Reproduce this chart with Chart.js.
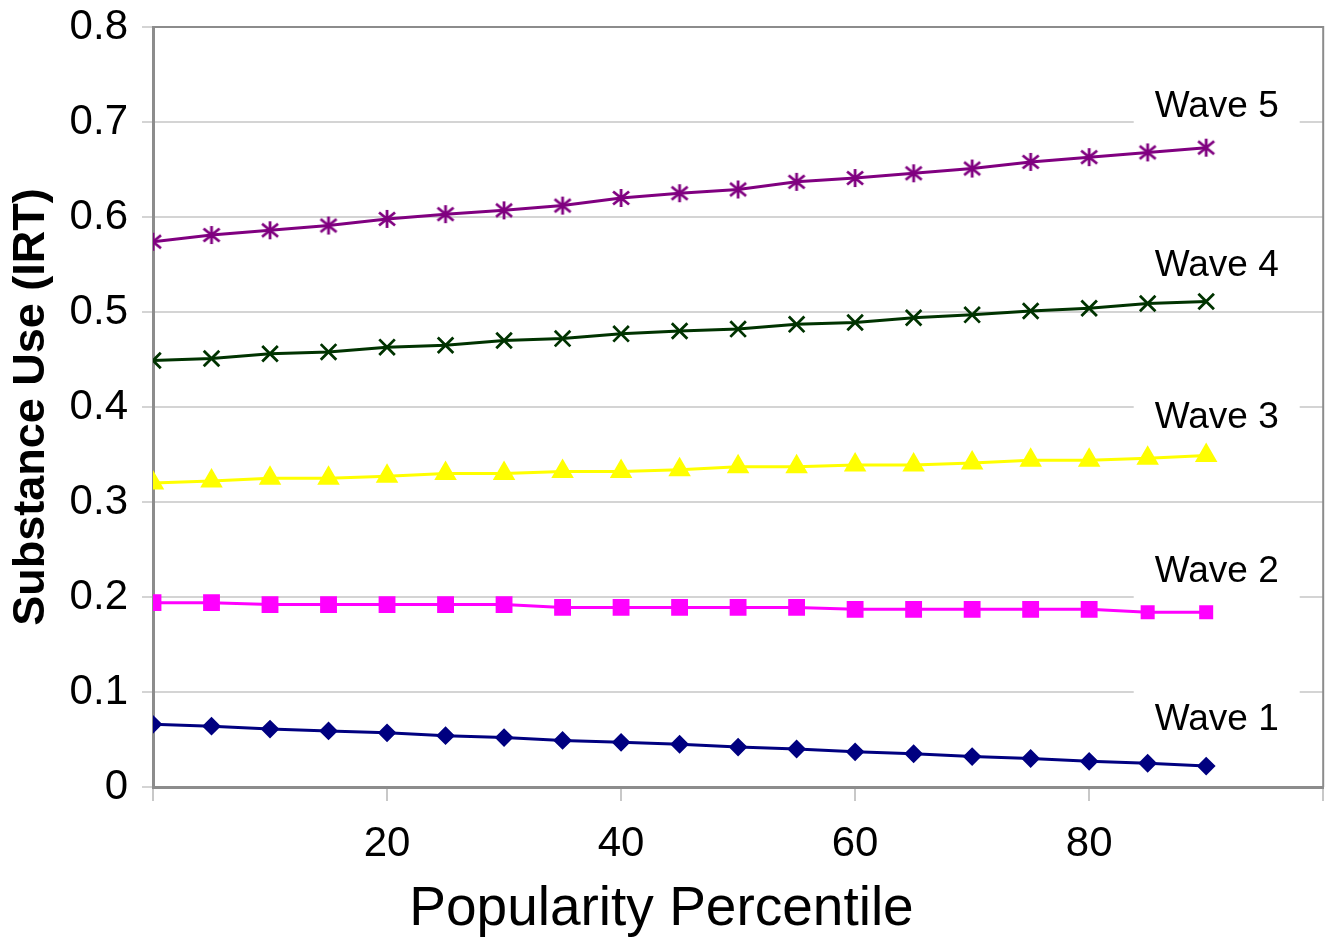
<!DOCTYPE html>
<html>
<head>
<meta charset="utf-8">
<script src="https://cdn.jsdelivr.net/npm/chart.js@4"></script>
<style>
  html, body { margin: 0; padding: 0; background: #fff; }
  #wrap { width: 1337px; height: 941px; }
</style>
</head>
<body>
<div id="wrap"><canvas id="chart" width="1337" height="941"></canvas></div>
<script>
// popularity percentile (x) and IRT substance use per wave (y)
const percentiles = [0, 5, 10, 15, 20, 25, 30, 35, 40, 45, 50, 55, 60, 65, 70, 75, 80, 85, 90];
const wave1 = [0.066, 0.064, 0.061, 0.059, 0.057, 0.054, 0.052, 0.049, 0.047, 0.045, 0.042, 0.040, 0.037, 0.035, 0.032, 0.030, 0.027, 0.025, 0.022];
const wave2 = [0.194, 0.194, 0.192, 0.192, 0.192, 0.192, 0.192, 0.189, 0.189, 0.189, 0.189, 0.189, 0.187, 0.187, 0.187, 0.187, 0.187, 0.184, 0.184];
const wave3 = [0.320, 0.322, 0.325, 0.325, 0.327, 0.330, 0.330, 0.332, 0.332, 0.334, 0.337, 0.337, 0.339, 0.339, 0.341, 0.344, 0.344, 0.346, 0.349];
const wave4 = [0.449, 0.451, 0.456, 0.458, 0.463, 0.465, 0.470, 0.472, 0.477, 0.480, 0.482, 0.487, 0.489, 0.494, 0.497, 0.501, 0.504, 0.509, 0.511];
const wave5 = [0.574, 0.581, 0.586, 0.591, 0.598, 0.603, 0.607, 0.612, 0.620, 0.625, 0.629, 0.637, 0.641, 0.646, 0.651, 0.658, 0.663, 0.668, 0.673];
const seriesNames = ['Wave 1', 'Wave 2', 'Wave 3', 'Wave 4', 'Wave 5'];
const xTickLabels = [20, 40, 60, 80];

const FONT = '"Liberation Sans", Arial, sans-serif';

// where the "Wave n" labels sit (data units)
const waveLabelX = 90.9;
const waveLabelY = [0.0705, 0.227, 0.389, 0.549, 0.716];

// excel style asterisk marker (x plus a vertical bar)
const asterisk = document.createElement('canvas');
asterisk.width = 22;
asterisk.height = 22;
{
  const c = asterisk.getContext('2d');
  c.strokeStyle = '#800080';
  c.lineWidth = 2.8;
  c.beginPath();
  c.moveTo(11, 2); c.lineTo(11, 20);
  c.moveTo(3, 4.5); c.lineTo(19, 17.5);
  c.moveTo(3, 17.5); c.lineTo(19, 4.5);
  c.stroke();
}

const toPoints = (vals) => vals.map((v, i) => ({ x: percentiles[i], y: v }));

const frame = {
  id: 'frame',
  beforeDatasetsDraw(chart) {
    const { ctx, chartArea: a } = chart;
    const x = chart.scales.x, y = chart.scales.y;
    ctx.save();
    // top + right border
    ctx.strokeStyle = '#8c8c8c';
    ctx.lineWidth = 2;
    ctx.beginPath();
    ctx.moveTo(a.left, a.top);
    ctx.lineTo(a.right, a.top);
    ctx.lineTo(a.right, a.bottom);
    ctx.stroke();
    // wave labels on white boxes
    ctx.font = '37px ' + FONT;
    ctx.textAlign = 'center';
    ctx.textBaseline = 'middle';
    seriesNames.forEach((name, i) => {
      const px = x.getPixelForValue(waveLabelX);
      const py = y.getPixelForValue(waveLabelY[i]);
      ctx.fillStyle = '#fff';
      ctx.fillRect(px - 83, py - 30, 166, 60);
      ctx.fillStyle = '#000';
      ctx.fillText(name, px, py);
    });
    ctx.restore();
  },
  afterDraw(chart) {
    const { ctx } = chart;
    ctx.save();
    ctx.font = '55px ' + FONT;
    ctx.fillStyle = '#000';
    ctx.textAlign = 'center';
    ctx.textBaseline = 'alphabetic';
    ctx.fillText('Popularity Percentile', chart.width / 2 - 7, 925);
    ctx.restore();
  }
};

const base = { borderWidth: 3, pointBorderWidth: 2, pointHoverRadius: 0 };

new Chart(document.getElementById('chart'), {
  type: 'line',
  data: {
    datasets: [
      { ...base, label: seriesNames[0], data: toPoints(wave1), borderColor: '#000080', backgroundColor: '#000080',
        pointStyle: 'rectRot', pointRadius: 8 },
      { ...base, label: seriesNames[1], data: toPoints(wave2), borderColor: '#ff00ff', backgroundColor: '#ff00ff',
        pointStyle: 'rect', pointRadius: (c) => c.dataIndex >= 17 ? 8.5 : 10.5 },
      { ...base, label: seriesNames[2], data: toPoints(wave3), borderColor: '#ffff00', backgroundColor: '#ffff00',
        pointStyle: 'triangle', pointRadius: 11 },
      { ...base, label: seriesNames[3], data: toPoints(wave4), borderColor: '#003300', backgroundColor: '#003300',
        pointStyle: 'crossRot', pointRadius: 11, pointBorderWidth: 2.8 },
      { ...base, label: seriesNames[4], data: toPoints(wave5), borderColor: '#800080', backgroundColor: '#800080',
        pointStyle: asterisk }
    ]
  },
  options: {
    responsive: false,
    devicePixelRatio: 1,
    animation: false,
    layout: { padding: { top: 27, right: 11, left: 0, bottom: 0 } },
    plugins: { legend: { display: false }, tooltip: { enabled: false } },
    scales: {
      x: {
        type: 'linear',
        min: 0,
        max: 100,
        ticks: {
          stepSize: 20,
          autoSkip: false,
          maxRotation: 0,
          padding: 10,
          color: '#000',
          font: { family: FONT, size: 42, lineHeight: 1.6 },
          callback: (v) => xTickLabels.includes(v) ? String(v) : ''
        },
        grid: { drawOnChartArea: false, drawTicks: true, tickLength: 14, color: '#c8c8c8', lineWidth: 2 },
        border: { display: true, color: '#8c8c8c', width: 3 },
        afterFit: (s) => { s.height = 154; }
      },
      y: {
        min: 0,
        max: 0.8,
        ticks: {
          stepSize: 0.1,
          padding: 14,
          color: '#000',
          font: { family: FONT, size: 42, lineHeight: 0.5 },
          callback: (v) => v === 0 ? '0' : v.toFixed(1)
        },
        grid: { color: '#d4d4d4', lineWidth: 2, tickLength: 11 },
        border: { display: true, color: '#8c8c8c', width: 3 },
        title: {
          display: true,
          text: 'Substance Use (IRT)',
          color: '#000',
          font: { family: FONT, size: 45, weight: 'bold' },
          padding: { top: 5, bottom: 0 }
        },
        afterFit: (s) => { s.width = 153; }
      }
    }
  },
  plugins: [frame]
});
</script>
</body>
</html>
